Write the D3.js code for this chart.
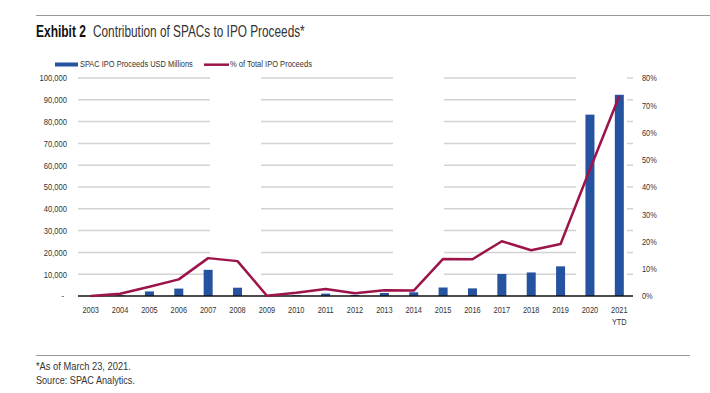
<!DOCTYPE html>
<html><head><meta charset="utf-8">
<script src="https://cdn.jsdelivr.net/npm/d3@7"></script>
<style>
body{margin:0;background:#fff;}
text{font-family:"Liberation Sans",Arial,sans-serif;fill:#333;}
</style></head>
<body>
<svg id="c" width="710" height="393"></svg>
<script>
const years = ["2003","2004","2005","2006","2007","2008","2009","2010","2011","2012","2013","2014","2015","2016","2017","2018","2019","2020","2021"];
const proceeds = [0,0.3,2.1,3.4,12.0,3.8,0.04,0.3,1.1,0.5,1.4,1.7,3.9,3.5,10.1,10.8,13.6,83.2,92.3]; // thousands of USD millions
const pctTotal = [0,0.8,3.4,6.1,13.9,12.8,0.1,1.2,2.6,1.0,2.1,2.0,13.6,13.5,20.1,16.8,19.1,46.5,73.4];
const leftTicks = [0,10000,20000,30000,40000,50000,60000,70000,80000,90000,100000];
const rightTicks = [0,10,20,30,40,50,60,70,80];

const svg = d3.select("#c");
const x = d3.scaleBand().domain(years).range([76,634]);
const yL = d3.scaleLinear().domain([0,100000]).range([296,78]);
const yR = d3.scaleLinear().domain([0,80]).range([296,78]);

function condense(sel, f){
  sel.attr("transform", function(){
    const xx = +this.getAttribute("x");
    return `translate(${xx},0) scale(${f},1) translate(${-xx},0)`;
  });
}
function fit(sel, w){
  const n = sel.node().getComputedTextLength();
  condense(sel, w / n);
}

// top rule & title
svg.append("line").attr("x1",36).attr("x2",710).attr("y1",15.5).attr("y2",15.5).attr("stroke","#999").attr("stroke-width",1);
fit(svg.append("text").attr("x",36).attr("y",37).style("font-size","16px").style("font-weight","bold").style("fill","#111").text("Exhibit 2"),50);
fit(svg.append("text").attr("x",93).attr("y",37).style("font-size","16px").style("fill","#333").text("Contribution of SPACs to IPO Proceeds*"),212);

// legend
svg.append("rect").attr("x",55).attr("y",62.5).attr("width",23).attr("height",4).attr("fill","#2553a0");
fit(svg.append("text").attr("x",80).attr("y",67.5).style("font-size","8.8px").text("SPAC IPO Proceeds USD Millions"),113);
svg.append("line").attr("x1",204).attr("x2",229).attr("y1",64.7).attr("y2",64.7).attr("stroke","#9c1449").attr("stroke-width",2.5);
fit(svg.append("text").attr("x",230).attr("y",67.5).style("font-size","8.8px").text("% of Total IPO Proceeds"),82);

// gridlines
svg.append("g").selectAll("line").data(leftTicks.slice(1)).join("line")
  .attr("x1",78).attr("x2",633).attr("y1",d=>yL(d)).attr("y2",d=>yL(d))
  .attr("stroke","#d3d3d3").attr("stroke-width",1.5).attr("stroke-dasharray","132,51");

// left axis labels
condense(svg.append("g").selectAll("text").data(leftTicks).join("text")
  .attr("x",d=>d===0?64:67).attr("y",d=>yL(d)+3.5).attr("text-anchor","end").style("font-size","9.5px")
  .text(d=>d===0?"-":d3.format(",")(d)), 0.8);

// right axis labels
condense(svg.append("g").selectAll("text").data(rightTicks).join("text")
  .attr("x",642).attr("y",d=>yR(d)+3.5).style("font-size","9.5px")
  .text(d=>d+"%"), 0.78);

// bars
svg.append("g").selectAll("rect").data(years).join("rect")
  .attr("x",d=>x(d)+x.bandwidth()/2-4.5).attr("width",9)
  .attr("y",(d,i)=>yL(proceeds[i]*1000)).attr("height",(d,i)=>296-yL(proceeds[i]*1000))
  .attr("fill","#2553a0");

// baseline
svg.append("line").attr("x1",78).attr("x2",633).attr("y1",296).attr("y2",296).attr("stroke","#111").attr("stroke-width",1.5);

// line
const line = d3.line().x((d,i)=>x(years[i])+x.bandwidth()/2).y(d=>yR(d));
svg.append("path").datum(pctTotal).attr("d",line).attr("fill","none").attr("stroke","#9c1449").attr("stroke-width",2.5).attr("stroke-linejoin","round");

// x labels
condense(svg.append("g").selectAll("text").data(years).join("text")
  .attr("x",d=>x(d)+x.bandwidth()/2).attr("y",313).attr("text-anchor","middle").style("font-size","9.5px").text(d=>d), 0.78);
condense(svg.append("text").attr("x",x("2021")+x.bandwidth()/2).attr("y",325).attr("text-anchor","middle").style("font-size","9.5px").text("YTD"), 0.78);

// footer
svg.append("line").attr("x1",36).attr("x2",690).attr("y1",355.5).attr("y2",355.5).attr("stroke","#999").attr("stroke-width",1);
fit(svg.append("text").attr("x",36).attr("y",370).style("font-size","10.5px").text("*As of March 23, 2021."),95);
fit(svg.append("text").attr("x",36).attr("y",384).style("font-size","10.5px").text("Source: SPAC Analytics."),99);
</script>
</body></html>
